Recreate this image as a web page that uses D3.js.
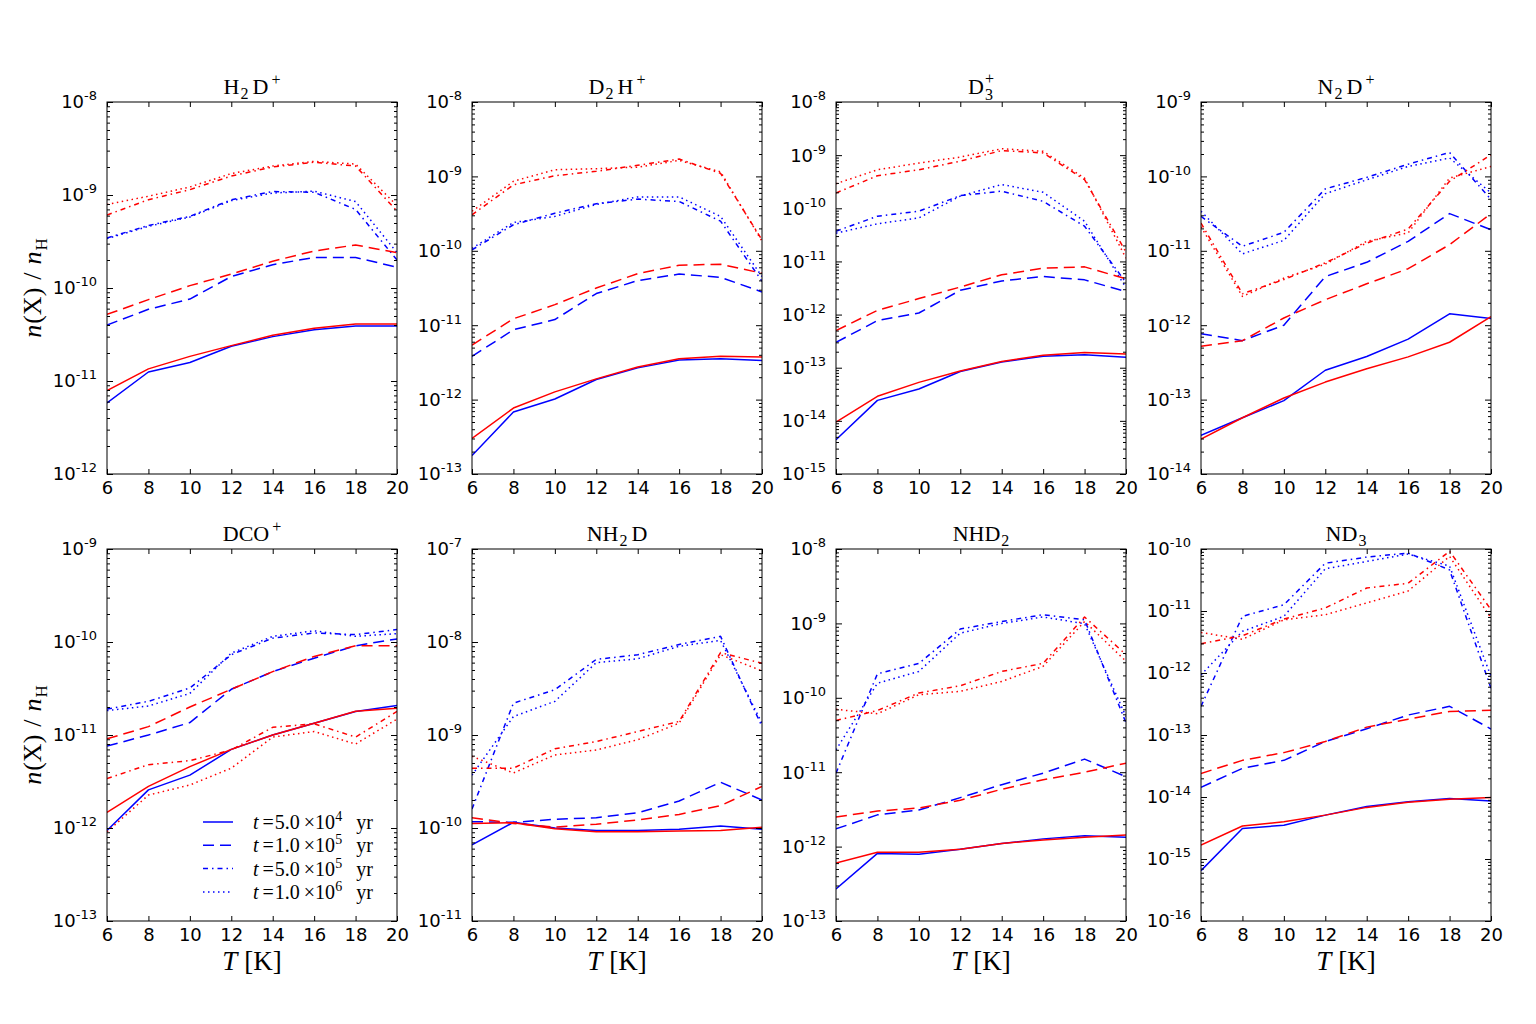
<!DOCTYPE html>
<html><head><meta charset="utf-8">
<script src="https://cdn.jsdelivr.net/npm/d3@7"></script>
<style>body{margin:0;background:#fff} svg{display:block;background:#fff}</style>
</head><body><svg id="c" width="1536" height="1024"></svg>
<script>
// ---------------- DATA ----------------
const temps = [6, 8, 10, 12, 14, 16, 18, 20];
const xTicks = [6, 8, 10, 12, 14, 16, 18, 20];
const timeLabels = [["5.0", "4"], ["1.0", "5"], ["5.0", "5"], ["1.0", "6"]];
// series order: t=5e4 (solid), 1e5 (dashed), 5e5 (dash-dot), 1e6 (dotted)

const h2dpBlue = [
  [5.8e-12, 1.25e-11, 1.58e-11, 2.36e-11, 3.0e-11, 3.56e-11, 3.9e-11, 3.9e-11],
  [4.0e-11, 5.9e-11, 7.6e-11, 1.33e-10, 1.78e-10, 2.13e-10, 2.13e-10, 1.67e-10],
  [3.45e-10, 4.7e-10, 5.9e-10, 8.9e-10, 1.09e-9, 1.07e-9, 7.0e-10, 2.0e-10],
  [3.4e-10, 4.6e-10, 5.8e-10, 8.7e-10, 1.05e-9, 1.1e-9, 8.5e-10, 2.4e-10]];
const h2dpRed = [
  [7.9e-12, 1.35e-11, 1.84e-11, 2.4e-11, 3.1e-11, 3.7e-11, 4.1e-11, 4.1e-11],
  [5.2e-11, 7.5e-11, 1.06e-10, 1.41e-10, 1.94e-10, 2.5e-10, 2.9e-10, 2.4e-10],
  [6.1e-10, 8.9e-10, 1.14e-9, 1.6e-9, 2.0e-9, 2.25e-9, 2.05e-9, 6.7e-10],
  [7.9e-10, 9.7e-10, 1.22e-9, 1.7e-9, 2.05e-9, 2.3e-9, 2.15e-9, 7.7e-10]];

const d2hpBlue = [
  [1.77e-13, 6.8e-13, 1.02e-12, 1.86e-12, 2.67e-12, 3.4e-12, 3.53e-12, 3.35e-12],
  [3.8e-12, 8.7e-12, 1.19e-11, 2.66e-11, 3.98e-11, 4.86e-11, 4.4e-11, 2.8e-11],
  [1.03e-10, 2.24e-10, 3.2e-10, 4.3e-10, 4.95e-10, 4.6e-10, 2.5e-10, 3.9e-11],
  [1.08e-10, 2.4e-10, 2.9e-10, 4.2e-10, 5.3e-10, 5.3e-10, 2.9e-10, 4.5e-11]];
const d2hpRed = [
  [3.0e-13, 7.7e-13, 1.27e-12, 1.9e-12, 2.75e-12, 3.53e-12, 3.83e-12, 3.75e-12],
  [5.4e-12, 1.22e-11, 1.89e-11, 3.16e-11, 4.93e-11, 6.4e-11, 6.6e-11, 5.0e-11],
  [3.05e-10, 7.7e-10, 1.02e-9, 1.17e-9, 1.41e-9, 1.71e-9, 1.1e-9, 1.4e-10],
  [3.4e-10, 8.6e-10, 1.23e-9, 1.27e-9, 1.33e-9, 1.64e-9, 1.15e-9, 1.35e-10]];

const d3pBlue = [
  [4.4e-15, 2.43e-14, 3.97e-14, 8.5e-14, 1.28e-13, 1.64e-13, 1.76e-13, 1.57e-13],
  [3.0e-13, 7.7e-13, 1.07e-12, 2.86e-12, 4.3e-12, 5.2e-12, 4.5e-12, 2.7e-12],
  [3.7e-11, 7.1e-11, 8.8e-11, 1.73e-10, 2.1e-10, 1.35e-10, 4.6e-11, 4.0e-12],
  [3.4e-11, 5.1e-11, 6.6e-11, 1.7e-10, 2.8e-10, 2.0e-10, 5.7e-11, 3.2e-12]];
const d3pRed = [
  [9.5e-15, 2.9e-14, 5.3e-14, 8.7e-14, 1.31e-13, 1.71e-13, 1.94e-13, 1.81e-13],
  [5.0e-13, 1.2e-12, 2.0e-12, 3.3e-12, 5.6e-12, 7.5e-12, 7.9e-12, 4.7e-12],
  [1.94e-10, 4.1e-10, 5.3e-10, 7.7e-10, 1.22e-9, 1.1e-9, 3.45e-10, 1.5e-11],
  [2.9e-10, 5.3e-10, 7.1e-10, 9.2e-10, 1.32e-9, 1.18e-9, 3.7e-10, 1.15e-11]];

const n2dpBlue = [
  [3.3e-14, 5.7e-14, 9.7e-14, 2.48e-13, 3.8e-13, 6.5e-13, 1.42e-12, 1.23e-12],
  [7.7e-13, 6.2e-13, 1.0e-12, 4.5e-12, 7.0e-12, 1.34e-11, 3.16e-11, 1.92e-11],
  [2.9e-11, 1.15e-11, 1.77e-11, 6.8e-11, 9.7e-11, 1.46e-10, 2.1e-10, 4.9e-11],
  [3.4e-11, 9.1e-12, 1.38e-11, 5.85e-11, 9.0e-11, 1.36e-10, 1.77e-10, 6.0e-11]];
const n2dpRed = [
  [2.95e-14, 5.7e-14, 1.05e-13, 1.72e-13, 2.6e-13, 3.75e-13, 5.9e-13, 1.3e-12],
  [5.2e-13, 6.2e-13, 1.25e-12, 2.2e-12, 3.6e-12, 5.75e-12, 1.21e-11, 3.16e-11],
  [2.36e-11, 2.65e-12, 4.1e-12, 6.9e-12, 1.27e-11, 1.96e-11, 8.6e-11, 1.95e-10],
  [2.1e-11, 2.44e-12, 4.3e-12, 6.6e-12, 1.34e-11, 1.74e-11, 9.5e-11, 1.36e-10]];

const dcopBlue = [
  [9.4e-13, 2.57e-12, 3.7e-12, 7.0e-12, 1.0e-11, 1.34e-11, 1.79e-11, 2.08e-11],
  [7.6e-12, 1.0e-11, 1.36e-11, 3.1e-11, 4.8e-11, 6.7e-11, 9.1e-11, 1.08e-10],
  [1.9e-11, 2.3e-11, 3.2e-11, 7.3e-11, 1.1e-10, 1.25e-10, 1.2e-10, 1.36e-10],
  [1.83e-11, 2.05e-11, 2.8e-11, 7.6e-11, 1.15e-10, 1.32e-10, 1.15e-10, 1.23e-10]];
const dcopRed = [
  [1.47e-12, 2.8e-12, 4.57e-12, 7.0e-12, 1.0e-11, 1.34e-11, 1.8e-11, 1.94e-11],
  [9.1e-12, 1.23e-11, 2.0e-11, 3.1e-11, 4.8e-11, 7.0e-11, 9.1e-11, 9.1e-11],
  [3.4e-12, 4.8e-12, 5.3e-12, 6.9e-12, 1.21e-11, 1.32e-11, 9.5e-12, 1.79e-11],
  [9.1e-13, 2.26e-12, 2.9e-12, 4.4e-12, 9.5e-12, 1.09e-11, 8.0e-12, 1.48e-11]];

const nh2dBlue = [
  [6.6e-11, 1.15e-10, 1.0e-10, 9.4e-11, 9.4e-11, 9.7e-11, 1.05e-10, 9.7e-11],
  [1.17e-10, 1.15e-10, 1.24e-10, 1.29e-10, 1.46e-10, 1.95e-10, 3.1e-10, 2.0e-10],
  [1.6e-10, 2.2e-9, 3.07e-9, 6.5e-9, 7.3e-9, 9.4e-9, 1.15e-8, 1.23e-9],
  [3.7e-10, 1.58e-9, 2.3e-9, 6.0e-9, 6.6e-9, 9.0e-9, 1.04e-8, 1.34e-9]];
const nh2dRed = [
  [1.12e-10, 1.14e-10, 9.8e-11, 9.1e-11, 9.1e-11, 9.3e-11, 9.4e-11, 1.02e-10],
  [1.29e-10, 1.12e-10, 1.02e-10, 1.1e-10, 1.22e-10, 1.4e-10, 1.74e-10, 2.8e-10],
  [4.4e-10, 4.4e-10, 7.1e-10, 8.5e-10, 1.09e-9, 1.4e-9, 7.7e-9, 5.9e-9],
  [5.9e-10, 3.9e-10, 6.1e-10, 6.9e-10, 8.9e-10, 1.34e-9, 7.3e-9, 4.9e-9]];

const nhd2Blue = [
  [2.7e-13, 8.1e-13, 7.9e-13, 9.2e-13, 1.1e-12, 1.27e-12, 1.4e-12, 1.34e-12],
  [1.73e-12, 2.67e-12, 3.1e-12, 4.55e-12, 6.8e-12, 9.7e-12, 1.5e-11, 8.7e-12],
  [9.7e-12, 2.1e-10, 2.9e-10, 8.4e-10, 1.06e-9, 1.31e-9, 1.12e-9, 4.6e-11],
  [2.0e-11, 1.57e-10, 2.26e-10, 7.4e-10, 1.0e-9, 1.22e-9, 9.9e-10, 5.6e-11]];
const nhd2Red = [
  [6.0e-13, 8.4e-13, 8.4e-13, 9.2e-13, 1.1e-12, 1.23e-12, 1.34e-12, 1.43e-12],
  [2.5e-12, 3.0e-12, 3.3e-12, 4.2e-12, 5.9e-12, 7.9e-12, 1.0e-11, 1.32e-11],
  [4.95e-11, 6.75e-11, 1.16e-10, 1.45e-10, 2.26e-10, 2.9e-10, 1.22e-9, 3.8e-10],
  [7.0e-11, 6.1e-11, 1.1e-10, 1.22e-10, 1.66e-10, 2.65e-10, 1.06e-9, 3.1e-10]];

const nd3Blue = [
  [6.5e-16, 3.1e-15, 3.5e-15, 5.1e-15, 7.0e-15, 8.4e-15, 9.5e-15, 8.6e-15],
  [1.43e-14, 2.9e-14, 3.9e-14, 7.85e-14, 1.26e-13, 2.1e-13, 2.9e-13, 1.25e-13],
  [2.9e-13, 8.2e-12, 1.26e-11, 5.9e-11, 7.4e-11, 8.6e-11, 4.6e-11, 5.7e-13],
  [9.3e-13, 4.7e-12, 8.2e-12, 4.8e-11, 6.3e-11, 8.3e-11, 5.3e-11, 8.8e-13]];
const nd3Red = [
  [1.68e-15, 3.4e-15, 4.0e-15, 5.1e-15, 6.8e-15, 8.2e-15, 9.2e-15, 9.8e-15],
  [2.4e-14, 3.9e-14, 5.2e-14, 7.85e-14, 1.34e-13, 1.8e-13, 2.4e-13, 2.5e-13],
  [2.97e-12, 4.0e-12, 7.4e-12, 1.12e-11, 2.35e-11, 2.8e-11, 9.2e-11, 1.05e-11],
  [4.5e-12, 3.5e-12, 7.2e-12, 8.7e-12, 1.35e-11, 2.1e-11, 7.6e-11, 7.7e-12]];

// titles as [text, kind] segments
const titles = [
  [["H", "n"], ["2", "sub"], ["D", "n"], ["+", "sup"]],
  [["D", "n"], ["2", "sub"], ["H", "n"], ["+", "sup"]],
  [["D", "n"], ["3", "subsup", "+"]],
  [["N", "n"], ["2", "sub"], ["D", "n"], ["+", "sup"]],
  [["DCO", "n"], ["+", "sup"]],
  [["NH", "n"], ["2", "sub"], ["D", "n"]],
  [["NHD", "n"], ["2", "sub"]],
  [["ND", "n"], ["3", "sub"]]
];
const yExponents = [[-12, -8], [-13, -8], [-15, -8], [-14, -9], [-13, -9], [-11, -7], [-13, -8], [-16, -10]];
const blueSets = [h2dpBlue, d2hpBlue, d3pBlue, n2dpBlue, dcopBlue, nh2dBlue, nhd2Blue, nd3Blue];
const redSets = [h2dpRed, d2hpRed, d3pRed, n2dpRed, dcopRed, nh2dRed, nhd2Red, nd3Red];

// ---------------- LAYOUT / STYLE ----------------
const colLeft = [107, 472, 836, 1201];
const rowTop = [102, 549];
const W = 290, H = 372;
const dashes = [null, "11,6", "5,4,1.5,4", "1.5,3.5"];
const colors = { blue: "#0000ff", red: "#ff0000" };
const SERIF = "'Liberation Serif','DejaVu Serif',serif";
const SANS = "'DejaVu Sans',sans-serif";

const svg = d3.select("#c");
svg.append("rect").attr("width", 1536).attr("height", 1024).attr("fill", "#fff");

function addTitle(g, segs) {
  const t = g.append("text").attr("x", W / 2).attr("y", -8)
    .attr("text-anchor", "middle").attr("font-family", SERIF).attr("font-size", 22).attr("fill", "#000");
  let base = 0;
  segs.forEach(s => {
    const [txt, kind, extra] = s;
    if (kind === "n") {
      t.append("tspan").attr("dy", -base).attr("dx", base !== 0 ? 4 : 0).text(txt); base = 0;
    } else if (kind === "sub") {
      t.append("tspan").attr("dy", 5 - base).attr("dx", 1).attr("font-size", 16).text(txt); base = 5;
    } else if (kind === "sup") {
      t.append("tspan").attr("dy", -9 - base).attr("dx", 3).attr("font-size", 16).text(txt); base = -9;
    } else if (kind === "subsup") {
      t.append("tspan").attr("dy", 6 - base).attr("dx", 1).attr("font-size", 16).text(txt);
      t.append("tspan").attr("dy", -16).attr("dx", -8).attr("font-size", 16).text(extra); base = -10;
    }
  });
}

blueSets.forEach((_, i) => {
  const col = i % 4, row = Math.floor(i / 4);
  const g = svg.append("g").attr("transform", `translate(${colLeft[col]},${rowTop[row]})`);
  const [lo, hi] = yExponents[i];
  const x = d3.scaleLinear().domain([6, 20]).range([0, W]);
  const y = d3.scaleLog().domain([Number("1e" + lo), Number("1e" + hi)]).range([H, 0]);

  const cid = "clip" + i;
  g.append("clipPath").attr("id", cid).append("rect").attr("width", W).attr("height", H);
  const line = d3.line().x((d, j) => x(temps[j])).y(d => y(d));
  const lg = g.append("g").attr("clip-path", `url(#${cid})`);
  [["blue", blueSets[i]], ["red", redSets[i]]].forEach(([c, sets]) => {
    sets.forEach((vals, k) => {
      lg.append("path").datum(vals).attr("d", line).attr("fill", "none")
        .attr("stroke", colors[c]).attr("stroke-width", 1.5)
        .attr("stroke-linejoin", "round")
        .attr("stroke-dasharray", dashes[k]);
    });
  });

  const majors = d3.range(lo, hi + 1).map(e => Number("1e" + e));
  const minors = [];
  for (let e = lo; e < hi; e++) for (let m = 2; m <= 9; m++) minors.push(Number(m + "e" + e));

  const noDomain = s => s.select(".domain").remove();
  const styleTicks = s => s.selectAll("line").attr("stroke", "#000").attr("stroke-width", 1);
  g.append("g").call(d3.axisLeft(y).tickValues(majors).tickSize(-6).tickFormat("")).call(noDomain).call(styleTicks);
  g.append("g").call(d3.axisLeft(y).tickValues(minors).tickSize(-3).tickFormat("")).call(noDomain).call(styleTicks);
  g.append("g").attr("transform", `translate(${W},0)`).call(d3.axisRight(y).tickValues(majors).tickSize(-6).tickFormat("")).call(noDomain).call(styleTicks);
  g.append("g").attr("transform", `translate(${W},0)`).call(d3.axisRight(y).tickValues(minors).tickSize(-3).tickFormat("")).call(noDomain).call(styleTicks);
  g.append("g").call(d3.axisTop(x).tickValues(xTicks).tickSize(-5).tickFormat("")).call(noDomain).call(styleTicks);
  const xb = g.append("g").attr("transform", `translate(0,${H})`)
    .call(d3.axisBottom(x).tickValues(xTicks).tickSize(-5).tickPadding(7).tickFormat(d3.format("d")))
    .call(noDomain).call(styleTicks);
  xb.selectAll("text").attr("font-family", SANS).attr("font-size", 18).attr("fill", "#000");

  // y tick labels 10^n
  majors.forEach((v, j) => {
    const e = lo + j;
    const t = g.append("text").attr("x", -10).attr("y", y(v)).attr("dy", "0.36em")
      .attr("text-anchor", "end").attr("font-family", SANS).attr("font-size", 18).attr("fill", "#000");
    t.append("tspan").text("10");
    t.append("tspan").attr("dy", -8).attr("font-size", 13).text(String(e));
  });

  g.append("rect").attr("width", W).attr("height", H).attr("fill", "none").attr("stroke", "#000").attr("stroke-width", 1);

  addTitle(g, titles[i]);

  // axis labels
  if (row === 1) {
    const t = g.append("text").attr("x", W / 2).attr("y", H + 49).attr("text-anchor", "middle")
      .attr("font-family", SERIF).attr("font-size", 27).attr("fill", "#000");
    t.append("tspan").attr("font-style", "italic").text("T");
    t.append("tspan").attr("dx", 7).text("[K]");
  }
  if (col === 0) {
    const t = svg.append("text").attr("transform", `translate(41,${rowTop[row] + H / 2}) rotate(-90)`)
      .attr("text-anchor", "middle").attr("font-family", SERIF).attr("font-size", 26).attr("fill", "#000");
    t.append("tspan").attr("font-style", "italic").text("n");
    t.append("tspan").attr("dx", 1).text("(X)");
    t.append("tspan").attr("dx", 8).text("/");
    t.append("tspan").attr("dx", 8).attr("font-style", "italic").text("n");
    t.append("tspan").attr("dy", 6).attr("dx", 1).attr("font-size", 17).text("H");
  }

  // legend in DCO+ panel
  if (i === 4) {
    const lgd = g.append("g");
    timeLabels.forEach(([m, ex], k) => {
      const ly = H - 99 + k * 23.3;
      lgd.append("line").attr("x1", 96).attr("x2", 126).attr("y1", ly).attr("y2", ly)
        .attr("stroke", colors.blue).attr("stroke-width", 1.5).attr("stroke-dasharray", dashes[k]);
      const t = lgd.append("text").attr("x", 146).attr("y", ly + 7)
        .attr("font-family", SERIF).attr("font-size", 20).attr("fill", "#000");
      t.append("tspan").attr("font-style", "italic").text("t");
      t.append("tspan").attr("dx", 4).text("=");
      t.append("tspan").attr("dx", 1).text(m);
      t.append("tspan").attr("dx", 4).text("×10");
      t.append("tspan").attr("dy", -8).attr("font-size", 14).text(ex);
      t.append("tspan").attr("dy", 8).attr("dx", 14).text("yr");
    });
  }
});
</script></body></html>
